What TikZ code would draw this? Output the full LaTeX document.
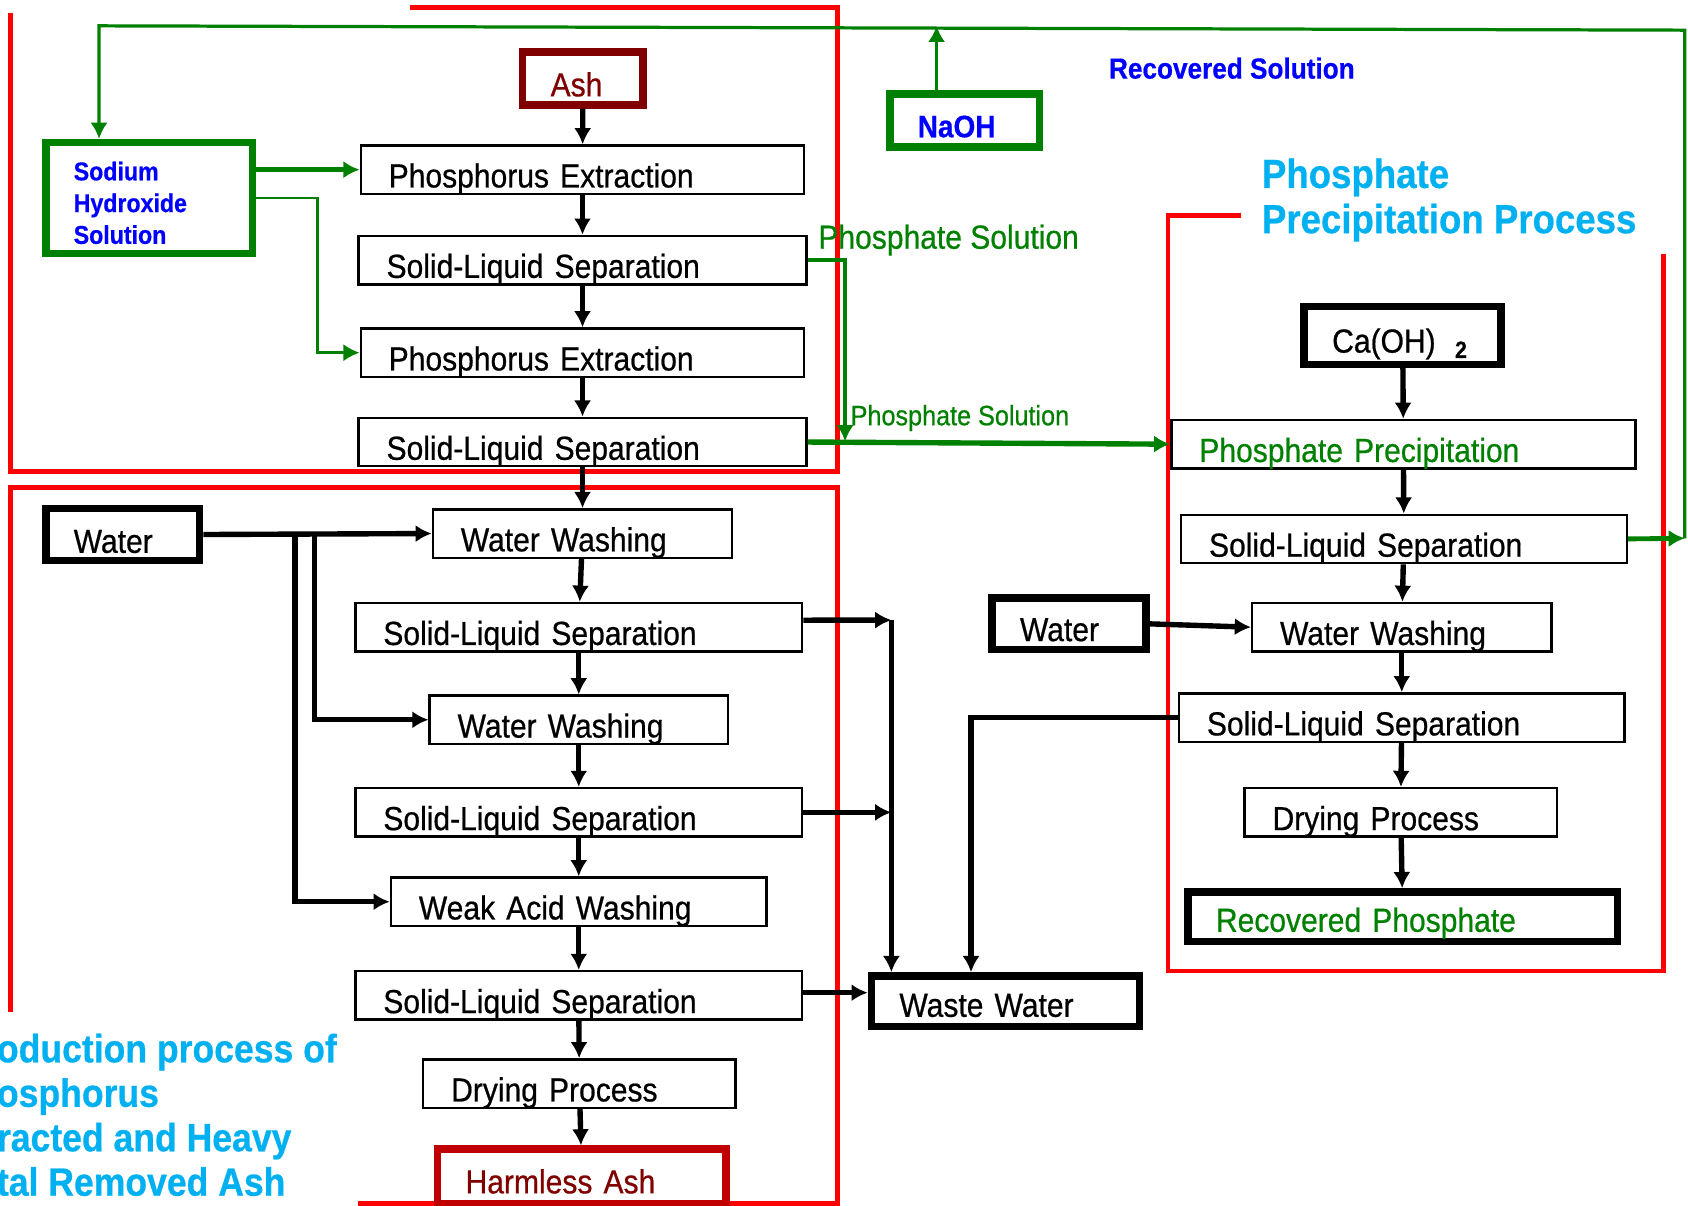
\documentclass[tikz,border=0pt]{standalone}
\usepackage{fontspec}
\setmainfont{Liberation Sans}[FakeStretch=0.9, FakeBold=0.6]
\usetikzlibrary{arrows.meta}
\definecolor{pgreen}{HTML}{008000}
\definecolor{pblue}{HTML}{0000FF}
\definecolor{pcyan}{HTML}{00B0F0}
\definecolor{ashred}{HTML}{800000}
\definecolor{harmred}{HTML}{C00000}
\newcommand\boxfont{\fontsize{31pt}{35pt}\selectfont}
\tikzset{
  frame/.style={draw=red, line width=4.5pt},
  proc/.style={draw, line width=2.2pt, anchor=north west, inner xsep=26pt,
    inner ysep=0pt, align=left, font=\boxfont},
  thin/.style={proc, text height=39pt, text depth=6pt},
  heavy/.style={proc, line width=7pt},
  arr/.style={line width=5pt, -{Latex[length=15pt,width=16pt]}},
  garr/.style={arr, draw=pgreen, color=pgreen},
  tag/.style={anchor=base west, inner sep=0pt},
}
\begin{document}
\begin{tikzpicture}[x=1pt,y=-1pt]
  \useasboundingbox (0,0) rectangle (1568,1120);
  % frames
  \draw[frame] (10,12) -- (10,438) -- (778,438) -- (778,7) -- (381,7);
  \draw[frame] (10,940) -- (10,453) -- (778,453) -- (778,1118) -- (333,1118);
  \draw[frame] (1153,200) -- (1085,200) -- (1085,902) -- (1545,902) -- (1545,236);

  % extraction
  \node[heavy, draw=ashred, text=ashred, text width=60pt, text height=41pt, text depth=8pt] (ash) at (482,45) {Ash};
  \node[heavy, draw=pgreen, text=pblue, text width=140pt, text height=35pt, text depth=68pt,
    font=\fontsize{23.9pt}{29.5pt}\selectfont\bfseries] (ns) at (39,129) {Sodium\\Hydroxide\\Solution};
  \node[thin, text width=360pt] (pe1) at (334,134) {Phosphorus Extraction};
  \node[thin, text width=364pt] (sls1) at (332,218) {Solid-Liquid Separation};
  \node[thin, text width=360pt] (pe2) at (334,304) {Phosphorus Extraction};
  \node[thin, text width=364pt] (sls2) at (332,387) {Solid-Liquid Separation};

  % washing
  \node[heavy, text width=91pt, text height=41pt, text depth=7pt] (water1) at (39,469) {Water};
  \node[thin, text width=226pt] (ww1) at (401,472) {Water Washing};
  \node[thin, text width=363pt] (sls3) at (329,559) {Solid-Liquid Separation};
  \node[thin, text width=225pt] (ww2) at (398,645) {Water Washing};
  \node[thin, text width=363pt] (sls4) at (329,731) {Solid-Liquid Separation};
  \node[thin, text width=297pt] (waw) at (362,814) {Weak Acid Washing};
  \node[thin, text width=363pt] (sls5) at (329,901) {Solid-Liquid Separation};
  \node[thin, text width=238pt] (dry1) at (392,983) {Drying Process};
  \node[heavy, draw=harmred, text=ashred, text width=216pt, text height=41pt, text depth=10pt] (harm) at (403,1064) {Harmless Ash};
  \node[heavy, text width=197pt, text height=38pt, text depth=9pt] (waste) at (806,903) {Waste Water};

  % precipitation
  \node[heavy, draw=pgreen, text=pblue, text width=87pt, text height=40pt, text depth=9pt,
    font=\fontsize{28.9pt}{32pt}\selectfont\bfseries] (naoh) at (823,84) {NaOH};
  \node[heavy, text width=131pt, text height=43pt, text depth=11pt] (cah) at (1208,281)
    {Ca(OH)\hspace{18pt}\raisebox{-5pt}{\fontsize{22pt}{22pt}\selectfont\bfseries 2}};
  \node[thin, text=pgreen, text width=379pt] (pp) at (1087,389) {Phosphate Precipitation};
  \node[thin, text width=362pt] (sls6) at (1096,477) {Solid-Liquid Separation};
  \node[heavy, text width=91pt, text height=40pt, text depth=8pt] (water2) at (918,552) {Water};
  \node[thin, text width=226pt] (ww3) at (1162,559) {Water Washing};
  \node[thin, text width=362pt] (sls7) at (1094,643) {Solid-Liquid Separation};
  \node[thin, text width=238pt] (dry2) at (1155,731) {Drying Process};
  \node[heavy, text=pgreen, text width=347pt, text height=37pt, text depth=9pt] (recp) at (1100,825) {Recovered Phosphate};

  % labels
  \node[tag, text=pblue, font=\fontsize{27pt}{30pt}\selectfont\bfseries] (rsol) at (1030,73) {Recovered Solution};
  \node[tag, text=pgreen, font=\boxfont] (psol1) at (760,231) {Phosphate Solution};
  \node[tag, text=pgreen, font=\fontsize{26pt}{29pt}\selectfont] (psol2) at (790,395) {Phosphate Solution};
  \node[tag, text=pcyan, font=\fontsize{37.8pt}{42pt}\selectfont\bfseries, align=left, anchor=north west]
    (ptitle) at (1172,147) {Phosphate\\Precipitation Process};
  \node[tag, text=pcyan, font=\fontsize{36.7pt}{41.3pt}\selectfont\bfseries, align=left, anchor=north west]
    (ltitle) at (-3,960) {oduction process of\\osphorus\\racted and Heavy\\tal Removed Ash};

  % main flow
  \foreach \a/\b in {ash/pe1, pe1/sls1, sls1/pe2, pe2/sls2, sls2/ww1, ww1/sls3, sls3/ww2,
      ww2/sls4, sls4/waw, waw/sls5, sls5/dry1, dry1/harm,
      cah/pp, pp/sls6, sls6/ww3, ww3/sls7, sls7/dry2, dry2/recp}
    \draw[arr] (\a) -- (\b);

  % water feeds
  \coordinate (tapA) at (292,497);
  \coordinate (tapB) at (274,497);
  \draw[arr] (water1.east) -- (ww1.west);
  \draw[arr] (tapA) |- (ww2.west);
  \draw[arr] (tapB) |- (waw.west);
  \draw[arr] (water2.east) -- (ww3.west);

  % waste water
  \coordinate (wcol) at (828,576);
  \coordinate (wret) at (902,903);
  \draw[arr] ([yshift=6.5pt]sls3.east) -- (wcol);
  \draw[arr] (wcol) -- (wcol |- waste.north);
  \draw[arr] (sls4.east) -- (sls4.east -| wcol);
  \draw[arr] ([yshift=2.5pt]sls5.east) -- ([yshift=2.5pt]sls5.east -| waste.west);
  \draw[arr] (sls7.west) -| (wret);

  % solutions
  \coordinate (psdrop) at (785,410);
  \coordinate (rbend) at (1565,500);
  \coordinate (rtop) at (1565,28);
  \coordinate (ltop) at (92,24);
  \coordinate (nup) at (870,84);
  \draw[garr, line width=5pt] (ns.east |- pe1.west) -- (pe1.west);
  \draw[garr, line width=2.5pt] (ns.east) -- (295,184) |- (pe2.west);
  \draw[garr, line width=3.5pt] (sls1.east) -| (psdrop);
  \draw[garr, line width=5pt] (sls2.east) -- (pp.west);
  \draw[garr, line width=4.5pt] (sls6.east) -- (rbend);
  \draw[garr, line width=3pt] (rbend) -- (rtop) -- (ltop) -- (ltop |- ns.north);
  \draw[garr, line width=3.5pt] (nup) -- (nup |- ltop);
\end{tikzpicture}
\end{document}
